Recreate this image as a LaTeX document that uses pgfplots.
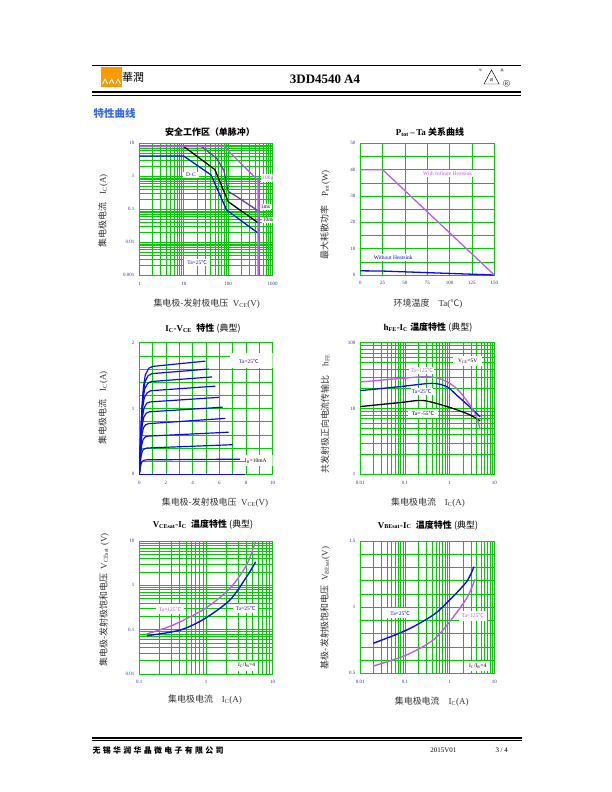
\documentclass[border=0pt]{standalone}
\usepackage{fontspec}
\setmainfont{Liberation Serif}
\newfontfamily\cjk{Noto Sans CJK SC}
\usepackage{pgfplots}
\pgfplotsset{compat=1.18}

\definecolor{grn}{RGB}{0,204,0}
\definecolor{myblue}{RGB}{10,10,240}
\definecolor{mypurple}{RGB}{190,90,240}
\definecolor{dkpurple}{RGB}{100,60,160}
\definecolor{navy}{RGB}{51,51,153}
\definecolor{headblue}{RGB}{51,102,255}
\definecolor{logoorange}{RGB}{255,153,0}

\pgfplotsset{
  ds/.style={
    scale only axis, grid=both,
    axis line style={grn, line width=0.8pt},
    major grid style={grn, line width=0.8pt},
    minor grid style={grn, line width=0.6pt},
    major tick length=0pt, minor tick length=0pt,
    tick label style={font=\fontsize{5}{6}\selectfont, text=navy},
    xticklabel style={yshift=-3pt},
    yticklabel style={xshift=-1.5pt},
  },
}
\tikzset{
  ttl/.style={font=\fontsize{9}{10}\selectfont},
  alab/.style={font=\fontsize{9}{10}\selectfont, text=black!80},
  lbl/.style={fill=white, inner sep=1.3pt, font=\fontsize{5.5}{6.5}\selectfont},
}

\begin{document}
\begin{tikzpicture}[x=1bp, y=1bp]
\useasboundingbox (0,0) rectangle (612,-792);

% ---------- header
\draw[line width=0.6pt] (92.3,-65.7) -- (521,-65.7);
\fill[logoorange] (101,-66.7) rectangle (121.7,-86.7);
\draw[white, line width=0.9pt] (102.5,-84) -- (105,-79) -- (107.5,-84)
  (109,-84) -- (111.5,-79) -- (114,-84) (115.5,-84) -- (118,-79) -- (120.5,-84);
\node[font=\fontsize{11}{12}\selectfont\cjk, anchor=west, inner sep=0] at (122,-77) {華潤};
\node[font=\fontsize{13}{14}\selectfont\bfseries] at (325,-79.5) {3DD4540 A4};
\draw[line width=0.5pt] (484,-84) -- (491.5,-70) -- (499,-84) -- cycle;
\node[font=\fontsize{3.5}{4}\selectfont\cjk, inner sep=0] at (491.5,-80) {润};
\node[font=\fontsize{3}{3}\selectfont\cjk, inner sep=0] at (480.5,-70) {华};
\node[font=\fontsize{3}{3}\selectfont\cjk, inner sep=0] at (502,-70) {晶};
\node[font=\fontsize{7}{8}\selectfont, inner sep=0] at (506.5,-84.5) {\textcircled{\fontsize{5}{5}\selectfont R}};
\draw[line width=1.8pt] (92.3,-92.3) -- (521,-92.3);
\draw[line width=0.5pt] (92.3,-95) -- (521,-95);
\node[font=\fontsize{10.5}{12}\selectfont\cjk\bfseries, text=headblue, anchor=west, inner sep=0] at (93.5,-113.3) {特性曲线};

% ---------- footer
\draw[line width=1.6pt] (92.3,-738.2) -- (521.7,-738.2);
\draw[line width=0.5pt] (92.3,-740.6) -- (521.7,-740.6);
\node[font=\fontsize{8}{9}\selectfont\cjk\bfseries, anchor=west, inner sep=0] at (92.5,-750)
  {\makebox[131bp][s]{无 锡 华 润 华 晶 微 电 子 有 限 公 司}};
\node[font=\fontsize{7}{8}\selectfont] at (443.3,-750) {2015V01};
\node[font=\fontsize{7}{8}\selectfont] at (501.7,-750) {3 / 4};

% ---------- chart 1: safe operating area
\node[ttl] at (210,-131.7) {\cjk\bfseries 安全工作区（单脉冲）};
\node[alab] at (206.7,-304) {{\cjk 集电极-发射极电压}\ \ V\textsubscript{CE}(V)};
\node[alab, rotate=90] at (103,-211) {{\cjk 集电极电流}\quad I\textsubscript{C}(A)};
\begin{axis}[ds, at={(139.3bp,-275.3bp)}, anchor=south west, width=133.4bp, height=132bp,
  xmode=log, ymode=log, xmin=1, xmax=1000, ymin=0.001, ymax=10,
  xtick={1,10,100,1000}, xticklabels={1,10,100,1000},
  ytick={0.001,0.01,0.1,1,10}, yticklabels={0.001,0.01,0.1,1,10}]
\addplot[dkpurple, line width=1.3pt] coordinates {(1,8) (25,8) (55,3.5) (80,1.5) (100,0.35) (150,0.25) (470,0.09)};
\addplot[black, line width=1.3pt] coordinates {(10,8) (50,1.6) (100,0.17) (470,0.039)};
\addplot[myblue, line width=1.3pt] coordinates {(1,4.1) (10,4.1) (41,1.1) (92,0.095) (470,0.019)};
\addplot[mypurple, line width=1.3pt] coordinates {(1,8) (80,8) (470,0.75) (470,0.001)};
\node[lbl, text=mypurple, anchor=west] at (axis cs:545,0.89) {100μs};
\node[lbl, text=black, anchor=west] at (axis cs:500,0.117) {1ms};
\node[lbl, text=black, anchor=west] at (axis cs:560,0.047) {10ms};
\node[lbl, text=myblue, inner xsep=3pt] at (axis cs:14.5,1.1) {D·C};
\node[lbl, text=myblue, inner xsep=3pt] at (axis cs:19.9,0.0024) {Ta=25{\cjk ℃}};
\end{axis}

% ---------- chart 2: Ptot - Ta
\node[ttl] at (430,-131.7) {\textbf{P\textsubscript{tot}\,–\,Ta} {\cjk\bfseries 关系曲线}};
\node[alab] at (428,-304) {{\cjk 环境温度}\quad Ta({\cjk ℃})};
\node[alab, rotate=90] at (325,-215) {{\cjk 最大耗散功率}\quad P\textsubscript{tot}(W)};
\begin{axis}[ds, at={(360.3bp,-275bp)}, anchor=south west, width=134bp, height=131.7bp,
  xmin=0, xmax=150, ymin=0, ymax=50,
  xtick={0,25,50,75,100,125,150}, xticklabels={0,25,50,75,100,125,150},
  ytick={0,10,20,30,40,50}, yticklabels={0,10,20,30,40,50},
  minor x tick num=0, minor y tick num=1]
\addplot[myblue, line width=1.3pt] coordinates {(0,1.6) (25,1.5) (150,0)};
\addplot[mypurple, line width=1.3pt] coordinates {(0,40) (25,40) (150,0)};
\node[lbl, text=mypurple, inner xsep=4pt] at (axis cs:97.8,38.6) {With Infinite Heatsink};
\node[lbl, text=myblue, inner xsep=3pt] at (axis cs:36.9,6.7) {Without Heatsink};
\end{axis}

% ---------- chart 3: IC - VCE
\node[ttl] at (203,-328.3) {\textbf{I\textsubscript{C}-V\textsubscript{CE}}\ \ {\cjk\bfseries 特性} {\cjk (典型)}};
\node[alab] at (215,-502.7) {{\cjk 集电极-发射极电压}\ \ V\textsubscript{CE}(V)};
\node[alab, rotate=90] at (103,-408) {{\cjk 集电极电流}\quad I\textsubscript{C}(A)};
\begin{axis}[ds, at={(139.3bp,-474.3bp)}, anchor=south west, width=133.4bp, height=131.6bp,
  xmin=0, xmax=10, ymin=0, ymax=2,
  xtick={0,2,4,6,8,10}, xticklabels={0,2,4,6,8,10},
  ytick={0,1,2}, yticklabels={0,1,2},
  minor x tick num=1, minor y tick num=4]
\fill[white] (axis cs:6.8,1.62) rectangle (axis cs:10,1.84);
\fill[white] (axis cs:7.9,0.12) rectangle (axis cs:10,0.29);
\addplot[myblue, line width=1.2pt] coordinates {(0,0) (7.9,0)};
\addplot[myblue, line width=1.2pt] coordinates {(0,0) (0.1,0.57) (0.2,1.02) (0.3,1.31) (0.45,1.51) (0.7,1.61) (1.0,1.64) (4.95,1.72)};
\addplot[myblue, line width=1.2pt] coordinates {(0,0) (0.095,0.54) (0.19,0.95) (0.285,1.22) (0.43,1.41) (0.665,1.50) (0.95,1.53) (5.2,1.60)};
\addplot[myblue, line width=1.2pt] coordinates {(0,0) (0.09,0.49) (0.18,0.87) (0.27,1.13) (0.405,1.30) (0.63,1.38) (0.9,1.41) (5.45,1.48)};
\addplot[myblue, line width=1.2pt] coordinates {(0,0) (0.085,0.44) (0.17,0.79) (0.255,1.02) (0.38,1.17) (0.6,1.24) (0.85,1.27) (5.7,1.34)};
\addplot[myblue, line width=1.2pt] coordinates {(0,0) (0.08,0.39) (0.16,0.68) (0.24,0.88) (0.36,1.01) (0.56,1.08) (0.8,1.10) (6.0,1.17)};
\addplot[myblue, line width=1.2pt] coordinates {(0,0) (0.075,0.33) (0.15,0.59) (0.225,0.76) (0.34,0.87) (0.525,0.93) (0.75,0.95) (6.25,1.02)};
\addplot[myblue, line width=1.2pt] coordinates {(0,0) (0.07,0.27) (0.14,0.48) (0.21,0.62) (0.315,0.71) (0.49,0.755) (0.7,0.77) (6.45,0.85)};
\addplot[myblue, line width=1.2pt] coordinates {(0,0) (0.065,0.20) (0.13,0.36) (0.195,0.46) (0.29,0.53) (0.455,0.57) (0.65,0.58) (6.7,0.64)};
\addplot[myblue, line width=1.2pt] coordinates {(0,0) (0.06,0.14) (0.12,0.25) (0.18,0.32) (0.27,0.37) (0.42,0.39) (0.6,0.40) (7.0,0.45)};
\addplot[myblue, line width=1.2pt] coordinates {(0,0) (0.055,0.08) (0.11,0.14) (0.165,0.18) (0.25,0.20) (0.385,0.215) (0.55,0.22) (7.55,0.23)};
\node[lbl, text=myblue, fill=none] at (axis cs:8.22,1.717) {Ta=25{\cjk ℃}};
\node[lbl, text=black, fill=none] at (axis cs:8.73,0.198) {I\textsubscript{B}=10mA};
\end{axis}

% ---------- chart 4: hFE - IC
\node[ttl] at (428,-327.5) {\textbf{h\textsubscript{FE}-I\textsubscript{C}} {\cjk\bfseries 温度特性} {\cjk (典型)}};
\node[alab] at (428,-502.7) {{\cjk 集电极电流}\quad I\textsubscript{C}(A)};
\node[alab, rotate=90] at (325,-414) {{\cjk 共发射极正向电流传输比}\quad h\textsubscript{FE}};
\begin{axis}[ds, at={(360.3bp,-474.3bp)}, anchor=south west, width=134bp, height=131.6bp,
  xmode=log, ymode=log, xmin=0.01, xmax=10, ymin=1, ymax=100,
  xtick={0.01,0.1,1,10}, xticklabels={0.01,0.1,1,10},
  ytick={1,10,100}, yticklabels={1,10,100}]
\addplot[black, line width=1.3pt, smooth] coordinates {(0.01,10.7) (0.077,12.3) (0.26,13.2) (1.0,10.4) (2.85,8.0) (4.8,6.5)};
\addplot[myblue, line width=1.3pt, smooth] coordinates {(0.01,18.7) (0.077,21.5) (0.4,24.1) (0.86,21.5) (1.43,16) (3.1,10) (4.8,7.5)};
\addplot[mypurple, line width=1.3pt, smooth] coordinates {(0.01,25.3) (0.077,28.6) (0.33,30.5) (0.72,27.1) (1.43,20.2) (2.85,11.3) (4.0,7.5) (4.8,4.8)};
\node[lbl, text=black, inner xsep=5pt, inner ysep=3pt] at (axis cs:2.54,52.7) {V\textsubscript{CE}=5V};
\node[lbl, text=mypurple] at (axis cs:0.237,37.5) {Ta=125{\cjk ℃}};
\node[lbl, text=myblue] at (axis cs:0.237,18.0) {Ta=25{\cjk ℃}};
\node[lbl, text=black, inner xsep=4pt, inner ysep=2.5pt] at (axis cs:0.254,8.45) {Ta=\,-55{\cjk ℃}};
\end{axis}

% ---------- chart 5: VCEsat - IC
\node[ttl] at (203,-524.3) {\textbf{V\textsubscript{CEsat}-I\textsubscript{C}}\ \ {\cjk\bfseries 温度特性} {\cjk (典型)}};
\node[alab] at (205,-700) {{\cjk 集电极电流}\quad I\textsubscript{C}(A)};
\node[alab, rotate=90] at (104,-600) {{\cjk 集电极-发射极饱和电压}\ \ V\textsubscript{CEsat} (V)};
\begin{axis}[ds, at={(139.3bp,-674bp)}, anchor=south west, width=133.4bp, height=133bp,
  xmode=log, ymode=log, xmin=0.1, xmax=10, ymin=0.01, ymax=10,
  xtick={0.1,1,10}, xticklabels={0.1,1,10},
  ytick={0.01,0.1,1,10}, yticklabels={0.01,0.1,1,10}]
\addplot[mypurple, line width=1.4pt, smooth] coordinates {(0.129,0.08) (0.32,0.127) (0.97,0.30) (2.29,0.86) (4.07,2.9) (5.5,9.6)};
\addplot[myblue, line width=1.4pt, smooth] coordinates {(0.129,0.073) (0.41,0.098) (0.97,0.18) (2.29,0.47) (4.07,1.57) (5.56,3.4)};
\node[lbl, text=mypurple, inner xsep=3pt, inner ysep=2.5pt] at (axis cs:0.288,0.292) {Ta=125{\cjk ℃}};
\node[lbl, text=myblue, inner xsep=3pt, inner ysep=2.5pt] at (axis cs:3.94,0.303) {Ta=25{\cjk ℃}};
\node[lbl, text=black, inner xsep=3pt, inner ysep=2.5pt] at (axis cs:4.07,0.0154) {I\textsubscript{C}/I\textsubscript{B}=4};
\end{axis}

% ---------- chart 6: VBEsat - IC
\node[ttl] at (428,-525) {\textbf{V\textsubscript{BEsat}-I\textsubscript{C}}\ \ {\cjk\bfseries 温度特性} {\cjk (典型)}};
\node[alab] at (431.7,-702) {{\cjk 集电极电流}\quad I\textsubscript{C}(A)};
\node[alab, rotate=90] at (325,-608) {{\cjk 基极-发射极饱和电压}\ \ V\textsubscript{BEsat}(V)};
\begin{axis}[ds, at={(360.3bp,-673.3bp)}, anchor=south west, width=134bp, height=132.3bp,
  xmode=log, xmin=0.01, xmax=10, ymin=0.5, ymax=1.5,
  xtick={0.01,0.1,1,10}, xticklabels={0.01,0.1,1,10},
  ytick={0.5,1,1.5}, yticklabels={0.5,1,1.5}, minor y tick num=4]
\addplot[myblue, line width=1.4pt, smooth] coordinates {(0.0195,0.727) (0.109,0.827) (0.43,0.941) (1.0,1.054) (2.4,1.193) (3.5,1.306)};
\addplot[mypurple, line width=1.4pt, smooth] coordinates {(0.0195,0.555) (0.109,0.639) (0.43,0.752) (1.0,0.89) (2.4,1.067) (3.7,1.21)};
\node[lbl, text=myblue, inner xsep=4pt, inner ysep=3pt] at (axis cs:0.0775,0.953) {Ta=25{\cjk ℃}};
\node[lbl, text=mypurple, inner xsep=3pt, inner ysep=3pt] at (axis cs:3.28,0.935) {Ta=125{\cjk ℃}};
\node[lbl, text=black, inner xsep=3pt, inner ysep=2.5pt] at (axis cs:4.25,0.557) {I\textsubscript{C}/I\textsubscript{B}=4};
\end{axis}
\end{tikzpicture}
\end{document}
